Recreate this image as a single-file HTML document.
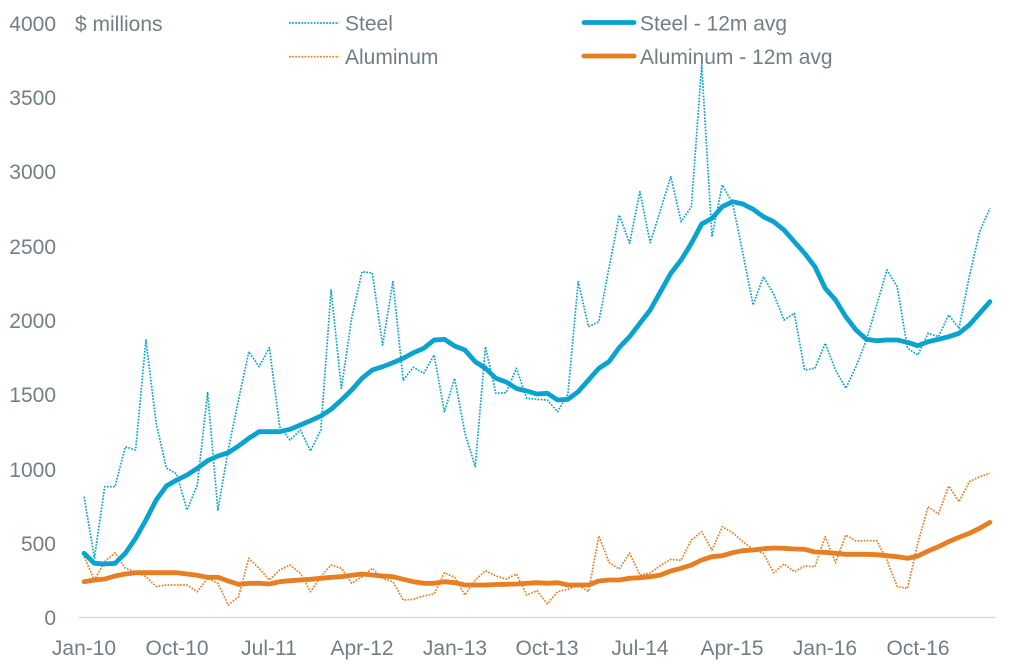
<!DOCTYPE html>
<html>
<head>
<meta charset="utf-8">
<style>
  html,body{margin:0;padding:0;background:#fff;}
  svg{display:block;}
  text{font-family:"Liberation Sans",Arial,sans-serif;font-size:21px;fill:#737e84;}
</style>
</head>
<body>
<svg width="1012" height="667" viewBox="0 0 1012 667" xmlns="http://www.w3.org/2000/svg">
  <rect x="0" y="0" width="1012" height="667" fill="#ffffff"/>

  <!-- Y axis labels -->
  <g text-anchor="end">
    <text x="56" y="31">4000</text>
    <text x="56" y="105">3500</text>
    <text x="56" y="179">3000</text>
    <text x="56" y="254">2500</text>
    <text x="56" y="328">2000</text>
    <text x="56" y="402">1500</text>
    <text x="56" y="477">1000</text>
    <text x="56" y="551">500</text>
    <text x="56" y="625">0</text>
  </g>
  <text x="75" y="31">$ millions</text>

  <!-- X axis line -->
  <line x1="79" y1="617.5" x2="995" y2="617.5" stroke="#d9d9d9" stroke-width="1.5"/>

  <!-- X labels -->
  <g text-anchor="middle">
    <text x="84" y="655">Jan-10</text>
    <text x="177" y="655">Oct-10</text>
    <text x="269" y="655">Jul-11</text>
    <text x="362" y="655">Apr-12</text>
    <text x="455" y="655">Jan-13</text>
    <text x="547" y="655">Oct-13</text>
    <text x="640" y="655">Jul-14</text>
    <text x="732" y="655">Apr-15</text>
    <text x="825" y="655">Jan-16</text>
    <text x="918" y="655">Oct-16</text>
  </g>

  <!-- Steel raw (dotted) -->
  <polyline fill="none" stroke="#0aa3d0" stroke-width="1.7" stroke-dasharray="1.7 1.4" stroke-linejoin="round"
    points="84.1,496.7 94.4,558 104.7,486.7 115.0,486.7 125.3,446.7 135.6,450 145.9,340 156.2,423.3 166.4,468 176.7,474 187.0,510 197.3,485 207.6,392.7 217.9,510 228.2,450 238.5,400 248.8,351.7 259.1,366.7 269.4,347.7 279.7,426.7 290.0,440 300.3,430 310.5,451 320.8,430 331.1,290 341.4,388.3 351.7,318 362.0,271.7 372.3,273 382.6,345 392.9,281.7 403.2,380 413.5,367.3 423.8,373.3 434.1,355 444.4,411.7 454.6,378.3 464.9,433 475.2,466.7 485.5,346.7 495.8,393.3 506.1,392.7 516.4,368.3 526.7,398.3 537.0,399.3 547.3,400 557.6,411.7 567.9,394 578.2,281.7 588.5,326.7 598.8,321.7 609.0,268 619.3,215 629.6,243.3 639.9,191.7 650.2,242.7 660.5,210 670.8,176.7 681.1,221.7 691.4,206.7 701.7,65 712.0,236.7 722.3,185 732.6,203.3 742.8,253 753.1,305 763.4,276.7 773.7,294 784.0,320 794.3,313.3 804.6,370 814.9,368.3 825.2,343.3 835.5,370 845.8,388.3 856.0,366.7 866.4,340 876.7,305 886.9,270 897.2,286.7 907.5,348.3 917.8,355 928.1,333.3 938.4,336.7 948.7,315 959.0,328.3 969.3,276.7 979.6,231.7 989.9,208.3"/>

  <!-- Aluminum raw (dotted) -->
  <polyline fill="none" stroke="#e87e22" stroke-width="1.7" stroke-dasharray="1.7 1.4" stroke-linejoin="round"
    points="84.1,556.7 94.4,580 104.7,561.7 115.0,552.7 125.3,568.3 135.6,571.7 145.9,576.7 156.2,586.7 166.4,585 176.7,585 187.0,585 197.3,591.7 207.6,578.3 217.9,583.3 228.2,605 238.5,596.7 248.8,558.3 259.1,568.3 269.4,580 279.7,570 290.0,565 300.3,573.3 310.5,591.7 320.8,576.7 331.1,565 341.4,568.3 351.7,583.3 362.0,576.7 372.3,568.3 382.6,578.3 392.9,581.7 403.2,600 413.5,599.3 423.8,596 434.1,594 444.4,572.7 454.6,577.3 464.9,595 475.2,580 485.5,570.7 495.8,576 506.1,579 516.4,574 526.7,595 537.0,590.7 547.3,604 557.6,591.7 567.9,589.3 578.2,585 588.5,591.7 598.8,536 609.0,562.5 619.3,569 629.6,553 639.9,575 650.2,573 660.5,565.5 670.8,559.3 681.1,560.3 691.4,540 701.7,531.7 712.0,550 722.3,526.7 732.6,532.7 742.8,541.7 753.1,549.3 763.4,553.3 773.7,572.7 784.0,564 794.3,571.7 804.6,566 814.9,566.7 825.2,536.7 835.5,562.7 845.8,535 856.0,541 866.4,540.7 876.7,540.7 886.9,560 897.2,586.7 907.5,588.3 917.8,543.3 928.1,506.7 938.4,514 948.7,486 959.0,501.7 969.3,481.7 979.6,476.7 989.9,473.3"/>

  <!-- Steel 12m avg -->
  <polyline fill="none" stroke="#0aa3d0" stroke-width="4.8" stroke-linejoin="round" stroke-linecap="round"
    points="84.1,553.3 94.4,563.3 104.7,564 115.0,563.3 125.3,553.3 135.6,538.3 145.9,520 156.2,500 166.4,486 176.7,480 187.0,475 197.3,468.3 207.6,460.7 217.9,456 228.2,452.7 238.5,446 248.8,438.3 259.1,431.7 269.4,431.7 279.7,431.7 290.0,429.3 300.3,425 310.5,420.7 320.8,416 331.1,409.3 341.4,400 351.7,390 362.0,378.3 372.3,370 382.6,366.7 392.9,362.7 403.2,358.3 413.5,352.7 423.8,348.3 434.1,340 444.4,339.3 454.6,346 464.9,350 475.2,361.7 485.5,368.3 495.8,378.3 506.1,382 516.4,388.5 526.7,391 537.0,394 547.3,393.3 557.6,400 567.9,399.3 578.2,391.7 588.5,380 598.8,368.3 609.0,361.7 619.3,347.5 629.6,336.7 639.9,323.3 650.2,310 660.5,291.7 670.8,273.3 681.1,260 691.4,243.3 701.7,224 712.0,218.3 722.3,206.7 732.6,201.7 742.8,204 753.1,209.3 763.4,216.7 773.7,221.7 784.0,230 794.3,241.7 804.6,253.3 814.9,266.7 825.2,288.3 835.5,300 845.8,316.7 856.0,330 866.4,339.3 876.7,340.7 886.9,340 897.2,340 907.5,342.3 917.8,345.7 928.1,341.7 938.4,339.3 948.7,336.7 959.0,333.3 969.3,325 979.6,313.3 989.9,301.7"/>

  <!-- Aluminum 12m avg -->
  <polyline fill="none" stroke="#e87e22" stroke-width="4.8" stroke-linejoin="round" stroke-linecap="round"
    points="84.1,581.7 94.4,580 104.7,579 115.0,576 125.3,574 135.6,572.7 145.9,572.7 156.2,572.7 166.4,572.7 176.7,572.7 187.0,574 197.3,575.3 207.6,577.3 217.9,577.3 228.2,581 238.5,584.3 248.8,583.3 259.1,583.3 269.4,584 279.7,581.7 290.0,580.7 300.3,580 310.5,579.3 320.8,578.3 331.1,577.3 341.4,576.7 351.7,575.3 362.0,574 372.3,575 382.6,576 392.9,576.7 403.2,579.3 413.5,581.7 423.8,583.3 434.1,583.3 444.4,581.7 454.6,582.7 464.9,585 475.2,585 485.5,585 495.8,584.5 506.1,584.3 516.4,584 526.7,583.3 537.0,582.7 547.3,583.3 557.6,582.7 567.9,585 578.2,585 588.5,585 598.8,581 609.0,580 619.3,580 629.6,578.3 639.9,577.7 650.2,576.7 660.5,575 670.8,571 681.1,568.3 691.4,565 701.7,560 712.0,556.7 722.3,555.7 732.6,552.7 742.8,550.7 753.1,550 763.4,548.7 773.7,548 784.0,548.3 794.3,549 804.6,549.3 814.9,552 825.2,552.3 835.5,553.3 845.8,554.3 856.0,554.3 866.4,554.3 876.7,554.7 886.9,555.7 897.2,556.7 907.5,558.3 917.8,556 928.1,551 938.4,546.7 948.7,541.7 959.0,537.3 969.3,533.3 979.6,528.3 989.9,522.3"/>

  <!-- Legend -->
  <line x1="289" y1="23" x2="339" y2="23" stroke="#0aa3d0" stroke-width="1.7" stroke-dasharray="1.7 1.4"/>
  <text x="345" y="30.5">Steel</text>
  <line x1="289" y1="56.7" x2="339" y2="56.7" stroke="#e87e22" stroke-width="1.7" stroke-dasharray="1.7 1.4"/>
  <text x="345" y="64">Aluminum</text>

  <line x1="584" y1="22.5" x2="634" y2="22.5" stroke="#0aa3d0" stroke-width="4.8" stroke-linecap="round"/>
  <text x="640" y="30.5">Steel - 12m avg</text>
  <line x1="584" y1="56" x2="634" y2="56" stroke="#e87e22" stroke-width="4.8" stroke-linecap="round"/>
  <text x="640" y="64">Aluminum - 12m avg</text>
</svg>
</body>
</html>
